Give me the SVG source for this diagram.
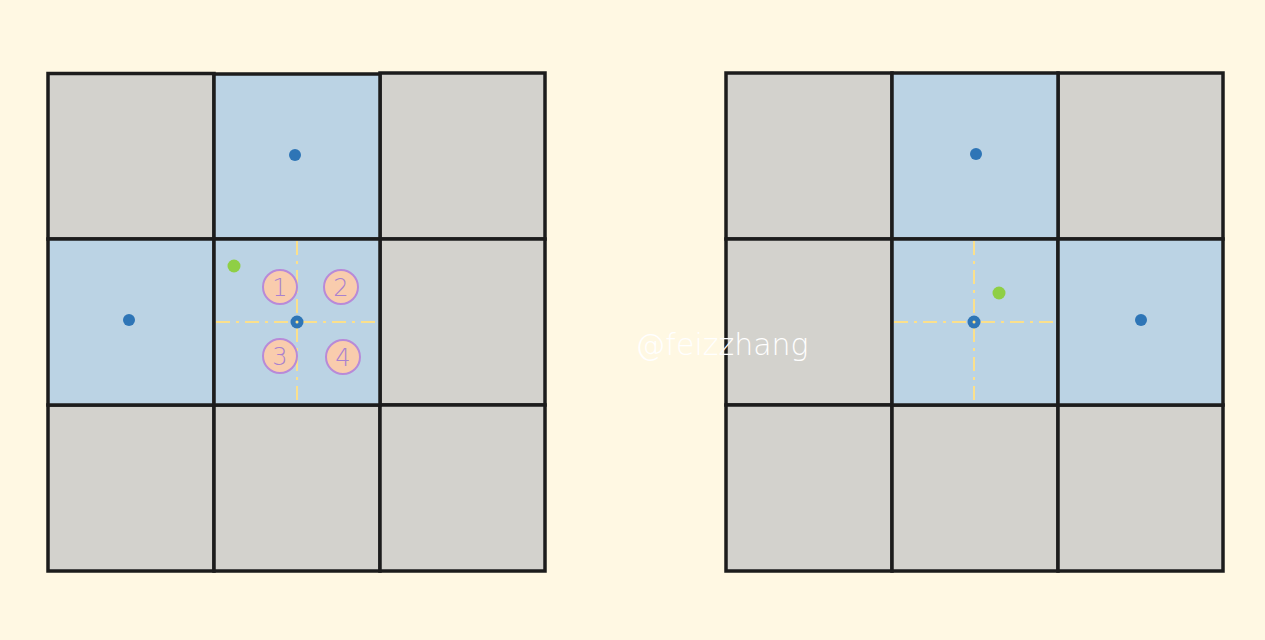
<svg xmlns="http://www.w3.org/2000/svg" width="1265" height="640" viewBox="0 0 1265 640">
<style>
.g{fill:#D3D2CD;stroke:#1C1C1C;stroke-width:3.5}
.b{fill:#BBD3E4;stroke:#1C1C1C;stroke-width:3.5}
.dot{fill:#2E75B6}
.gr{fill:#8FCF45}
.ax{stroke:#FBE08C;stroke-width:2;stroke-dasharray:14,6,3,6;fill:none}
.q{fill:#F9CCAD;stroke:#B88AD8;stroke-width:2}
.qt{font-family:"DejaVu Sans","Liberation Sans",sans-serif;font-size:24px;font-weight:200;fill:#A981CF;text-anchor:middle}
.wm{font-family:"DejaVu Sans","Liberation Sans",sans-serif;font-size:30px;fill:#FFFFFF;text-anchor:middle;font-weight:200}
</style>
<rect width="1265" height="640" fill="#FFF8E3"/>
<g id="left-grid">
<rect class="g" x="48" y="73.5" width="166" height="165.5"/>
<rect class="g" x="380" y="73" width="165" height="166"/>
<rect class="g" x="380" y="239" width="165" height="166"/>
<rect class="g" x="48" y="405" width="166" height="166"/>
<rect class="g" x="214" y="405" width="166" height="166"/>
<rect class="g" x="380" y="405" width="165" height="166"/>
<rect class="b" x="214" y="74" width="166" height="165"/>
<rect class="b" x="48" y="239" width="166" height="166"/>
<rect class="b" x="214" y="239" width="166" height="166"/>
</g>
<g id="right-grid">
<rect class="g" x="726" y="73" width="166" height="166"/>
<rect class="g" x="1058" y="73" width="165" height="166"/>
<rect class="g" x="726" y="239" width="166" height="166"/>
<rect class="g" x="726" y="405" width="166" height="166"/>
<rect class="g" x="892" y="405" width="166" height="166"/>
<rect class="g" x="1058" y="405" width="165" height="166"/>
<rect class="b" x="892" y="73" width="166" height="166"/>
<rect class="b" x="892" y="239" width="166" height="166"/>
<rect class="b" x="1058" y="239" width="165" height="166"/>
</g>
<g id="connectors">
<line class="ax" x1="297" y1="241" x2="297" y2="403"/>
<line class="ax" x1="216" y1="322" x2="378" y2="322"/>
<line class="ax" x1="974" y1="241" x2="974" y2="403"/>
<line class="ax" x1="894" y1="322" x2="1056" y2="322"/>
</g>
<g id="left-points">
<circle class="dot" cx="295" cy="155" r="6"/>
<circle class="dot" cx="129" cy="320" r="6"/>
<circle class="dot" cx="297" cy="322" r="6.5"/>
<circle cx="297" cy="322" r="1.5" fill="#FBE08C"/>
<circle class="gr" cx="234" cy="266" r="6.5"/>
</g>
<g id="q1"><circle class="q" cx="280" cy="287" r="17"/><text class="qt" x="280" y="296">1</text></g>
<g id="q2"><circle class="q" cx="341" cy="287" r="17"/><text class="qt" x="341" y="296">2</text></g>
<g id="q3"><circle class="q" cx="280" cy="356" r="17"/><text class="qt" x="280" y="365">3</text></g>
<g id="q4"><circle class="q" cx="343" cy="357" r="17"/><text class="qt" x="343" y="366">4</text></g>
<g id="right-points">
<circle class="dot" cx="976" cy="154" r="6"/>
<circle class="dot" cx="1141" cy="320" r="6"/>
<circle class="dot" cx="974" cy="322" r="6.5"/>
<circle cx="974" cy="322" r="1.5" fill="#FBE08C"/>
<circle class="gr" cx="999" cy="293" r="6.5"/>
</g>
<text class="wm" x="722" y="355">@feizzhang</text>
</svg>
